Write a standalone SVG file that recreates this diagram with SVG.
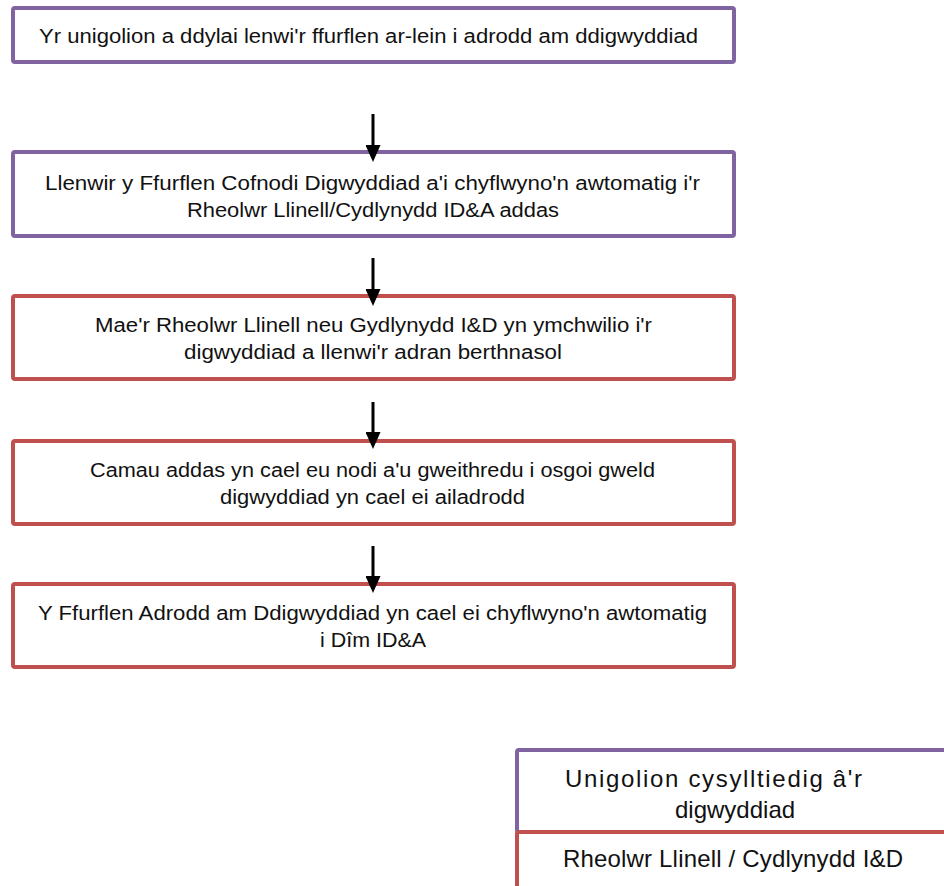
<svg xmlns="http://www.w3.org/2000/svg" width="944" height="886" viewBox="0 0 944 886">
<style>
  .box { fill: #ffffff; stroke-width: 4; }
  .p { stroke: #8064A2; }
  .r { stroke: #C0504D; }
  .t { font-family: "Liberation Sans", Arial, sans-serif; font-size: 19.5px; fill: #111111; }
  .lt { font-family: "Liberation Sans", Arial, sans-serif; font-size: 24px; fill: #111111; }
  .c { stroke: #000000; stroke-width: 3; fill: none; marker-end: url(#ah); }
</style>
<defs>
  <marker id="ah" viewBox="0 0 17 15" refX="0" refY="7.5" markerWidth="17" markerHeight="15" markerUnits="userSpaceOnUse" orient="auto">
    <path d="M0,0 L17,7.5 L0,15 Z" fill="#000000"/>
  </marker>
</defs>
<rect width="944" height="886" fill="#ffffff"/>

<g id="n1">
  <rect class="box p" x="13" y="8" width="721" height="54" rx="2"/>
  <text class="t" x="39" y="43" textLength="659" lengthAdjust="spacingAndGlyphs">Yr unigolion a ddylai lenwi'r ffurflen ar-lein i adrodd am ddigwyddiad</text>
</g>
<g id="n2">
  <rect class="box p" x="13" y="152" width="721" height="84" rx="2"/>
  <text class="t" x="45" y="190" textLength="655" lengthAdjust="spacingAndGlyphs">Llenwir y Ffurflen Cofnodi Digwyddiad a'i chyflwyno'n awtomatig i'r</text>
  <text class="t" x="187" y="217" textLength="372" lengthAdjust="spacingAndGlyphs">Rheolwr Llinell/Cydlynydd ID&amp;A addas</text>
</g>
<g id="n3">
  <rect class="box r" x="13" y="296" width="721" height="83" rx="2"/>
  <text class="t" x="95" y="332" textLength="557" lengthAdjust="spacingAndGlyphs">Mae'r Rheolwr Llinell neu Gydlynydd I&amp;D yn ymchwilio i'r</text>
  <text class="t" x="184" y="359" textLength="378" lengthAdjust="spacingAndGlyphs">digwyddiad a llenwi'r adran berthnasol</text>
</g>
<g id="n4">
  <rect class="box r" x="13" y="441" width="721" height="83" rx="2"/>
  <text class="t" x="90" y="477" textLength="565" lengthAdjust="spacingAndGlyphs">Camau addas yn cael eu nodi a'u gweithredu i osgoi gweld</text>
  <text class="t" x="220" y="504" textLength="305" lengthAdjust="spacingAndGlyphs">digwyddiad yn cael ei ailadrodd</text>
</g>
<g id="n5">
  <rect class="box r" x="13" y="584" width="721" height="83" rx="2"/>
  <text class="t" x="38" y="620" textLength="669" lengthAdjust="spacingAndGlyphs">Y Ffurflen Adrodd am Ddigwyddiad yn cael ei chyflwyno'n awtomatig</text>
  <text class="t" x="320" y="647" textLength="106" lengthAdjust="spacingAndGlyphs">i Dîm ID&amp;A</text>
</g>

<g id="connectors">
  <line class="c" x1="373" y1="114" x2="373" y2="145"/>
  <line class="c" x1="373" y1="258" x2="373" y2="289"/>
  <line class="c" x1="373" y1="402" x2="373" y2="432"/>
  <line class="c" x1="373" y1="546" x2="373" y2="576"/>
</g>

<g id="legend-purple">
  <rect class="box p" x="517" y="750" width="440" height="82" rx="2"/>
  <text class="lt" x="565" y="787" textLength="297" lengthAdjust="spacing">Unigolion cysylltiedig â'r</text>
  <text class="lt" x="675" y="818">digwyddiad</text>
</g>
<g id="legend-red">
  <rect class="box r" x="517" y="832" width="440" height="60" rx="2"/>
  <text class="lt" x="563" y="867" textLength="340" lengthAdjust="spacing">Rheolwr Llinell / Cydlynydd I&amp;D</text>
</g>
</svg>
